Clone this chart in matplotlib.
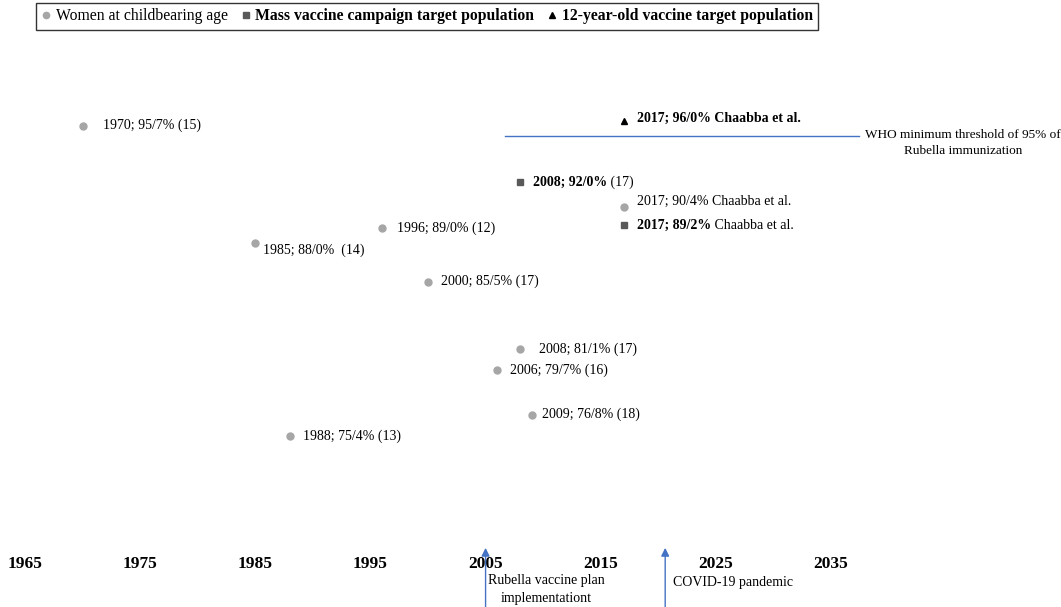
import matplotlib
matplotlib.use("Agg")
import matplotlib.pyplot as plt
from matplotlib.lines import Line2D

plt.rcParams["font.family"] = ["Liberation Serif", "DejaVu Serif"]

# -----------------------------
# Data
# -----------------------------
women_years = [1970, 1985, 1988, 1996, 2000, 2006, 2008, 2009, 2017]
women_vals = [95.7, 88.0, 75.4, 89.0, 85.5, 79.7, 81.1, 76.8, 90.4]
women_refs = ["(15)", " (14)", "(13)", "(12)", "(17)", "(16)", "(17)", "(18)", "Chaabba et al."]

mass_years = [2008, 2017]
mass_vals = [92.0, 89.2]
mass_refs = ["(17)", "Chaabba et al."]

teen_years = [2017]
teen_vals = [96.0]
teen_refs = ["Chaabba et al."]

WHO_THRESHOLD = 95.0
threshold_span = (2006.7, 2037.4)

event_years = [2005, 2020.6]
event_labels = ["Rubella vaccine plan\nimplementationt", "COVID-19 pandemic"]

x_ticks = [1965, 1975, 1985, 1995, 2005, 2015, 2025, 2035]

# label offsets in pixels (dx, dy) -- layout only
women_offsets = [(20, 0), (8, -7), (13, 0), (15, 0), (13, 0), (13, 0), (19, 0), (10, 0), (13, 5)]
mass_offsets = [(13, 0), (13, 0)]
teen_offsets = [(13, 3)]

GRAY = "#a6a6a6"
DARK = "#595959"
BLUE = "#4472c4"
FS = 10


def fmt(year, val):
    return f"{year}; {val:.1f}%".replace(".", "/")


def px2pt(v):
    return v * 72 / 100


def label(ax, x, y, bold_part, normal_part, off):
    dx, dy = off
    t1 = ax.annotate(bold_part[0], xy=(x, y), xytext=(px2pt(dx), px2pt(dy)),
                     textcoords="offset points", ha="left", va="center",
                     fontsize=FS, fontweight=bold_part[1])
    if normal_part:
        ax.annotate(" " + normal_part, xy=(1, 0), xycoords=t1, ha="left", va="bottom",
                    fontsize=FS)


fig = plt.figure(figsize=(10.61, 6.07), dpi=100)
ax = fig.add_axes([25 / 1061, 1 - 549 / 607, 806 / 1061, 489 / 607])
ax.set_xlim(1965, 2035)
ax.set_ylim(68, 100)

ax.plot(women_years, women_vals, "o", color=GRAY, markersize=5, linestyle="none")
ax.plot(mass_years, mass_vals, "s", color=DARK, markersize=4.5, linestyle="none")
ax.plot(teen_years, teen_vals, "^", color="black", markersize=5, linestyle="none")

for yr, v, ref, off in zip(women_years, women_vals, women_refs, women_offsets):
    label(ax, yr, v, (fmt(yr, v) + " " + ref, "normal"), None, off)
for yr, v, ref, off in zip(mass_years, mass_vals, mass_refs, mass_offsets):
    label(ax, yr, v, (fmt(yr, v), "bold"), ref, off)
for yr, v, ref, off in zip(teen_years, teen_vals, teen_refs, teen_offsets):
    label(ax, yr, v, (fmt(yr, v) + " " + ref, "bold"), None, off)

# WHO threshold
ax.plot(threshold_span, [WHO_THRESHOLD, WHO_THRESHOLD], color=BLUE, linewidth=1, clip_on=False)
ax.text(963 / 1061, 1 - 129 / 607, "WHO minimum threshold of 95% of\nRubella immunization",
        transform=fig.transFigure, ha="center", va="top", fontsize=9.5, linespacing=1.45)

# axes styling
for s in ax.spines.values():
    s.set_visible(False)
ax.set_yticks([])
ax.set_xticks(x_ticks)
ax.set_xticklabels([str(t) for t in x_ticks], fontsize=12.5, fontweight="bold")
ax.tick_params(axis="x", length=0, pad=5)

# event arrows below the axis
for yr in event_years:
    ax.annotate("", xy=(yr, 0.008), xycoords=("data", "axes fraction"),
                xytext=(yr, -0.13), textcoords=("data", "axes fraction"),
                arrowprops=dict(arrowstyle="-|>", color=BLUE, lw=1, mutation_scale=12),
                annotation_clip=False)
ax.text(event_years[0] + 5.3, -0.052, event_labels[0], transform=ax.get_xaxis_transform(),
        ha="center", va="top", fontsize=10, linespacing=1.45, clip_on=False)
ax.text(event_years[1] + 0.7, -0.056, event_labels[1], transform=ax.get_xaxis_transform(),
        ha="left", va="top", fontsize=10, clip_on=False)

# legend
handles = [
    Line2D([], [], marker="o", color=GRAY, linestyle="none", markersize=4.5),
    Line2D([], [], marker="s", color=DARK, linestyle="none", markersize=4),
    Line2D([], [], marker="^", color="black", linestyle="none", markersize=4.5),
]
names = ["Women at childbearing age", "Mass vaccine campaign target population",
         "12-year-old vaccine target population"]
leg = fig.legend(handles, names, loc="upper left", bbox_to_anchor=(36 / 1061, 1 - 3 / 607),
                 ncol=3, frameon=True, fancybox=False, edgecolor="black", fontsize=11.3,
                 handlelength=0.6, handletextpad=0.3, columnspacing=0.85,
                 borderpad=0.35, borderaxespad=0)
leg.get_frame().set_linewidth(1)
for t in leg.get_texts()[1:]:
    t.set_fontweight("bold")

fig.savefig("out.png", dpi=100)
